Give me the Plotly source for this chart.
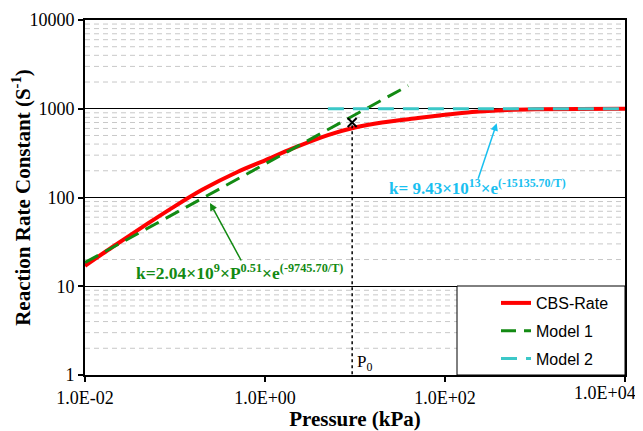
import plotly.graph_objects as go
import math

# ---- data ----
cbs_p = [0.01, 0.02, 0.05, 0.1, 0.2, 0.5, 1, 2, 5, 10, 20, 50, 100, 200, 500, 1000, 10000]
cbs_k = [17, 27.5, 51, 80, 122, 195, 262, 355, 505, 615, 700, 785, 855, 920, 970, 988, 1000]

m1_p = [0.01, 0.1, 1, 10, 39]
m1_k = [18.5, 66, 238, 855, 1820]

m2_p = [5, 10000]
m2_k = [1000, 1000]

p0 = 9.3
p0_k = 700

y_ticks = [1, 10, 100, 1000, 10000]
y_ticklabels = ["1", "10", "100", "1000", "10000"]
x_ticks = [0.01, 1, 100, 10000]
x_ticklabels = ["1.0E-02", "1.0E+00", "1.0E+02", ""]
x_last_label = "1.0E+04"

minor_vals = [m * 10 ** e for e in range(0, 4) for m in range(2, 10)]

SERIF = "Liberation Serif"
SANS = "Liberation Sans"
GREEN = "#138a13"
CYAN_LINE = "#3cc8c8"
CYAN_TXT = "#19c0f0"

fig = go.Figure()

fig.add_trace(go.Scatter(x=cbs_p, y=cbs_k, mode="lines", name="CBS-Rate",
                         line=dict(color="#ff0000", width=4, shape="spline", smoothing=0.8),
                         legendgroup="a"))
fig.add_trace(go.Scatter(x=m1_p, y=m1_k, mode="lines", name="Model 1",
                         line=dict(color=GREEN, width=3, dash="15px,8px"),
                         legendgroup="b"))
fig.add_trace(go.Scatter(x=m2_p, y=m2_k, mode="lines", name="Model 2",
                         line=dict(color=CYAN_LINE, width=3, dash="16px,9px"),
                         legendgroup="c"))
fig.add_trace(go.Scatter(x=[p0, p0], y=[p0_k * 0.93, 1], mode="lines", showlegend=False,
                         line=dict(color="black", width=1.5, dash="dot")))
fig.add_trace(go.Scatter(x=[p0], y=[p0_k], mode="markers", showlegend=False,
                         marker=dict(symbol="x-thin", size=9,
                                     line=dict(color="black", width=2))))

shapes = []
for v in minor_vals:
    shapes.append(dict(type="line", xref="paper", x0=0, x1=1, yref="y", y0=v, y1=v,
                       line=dict(color="#c8c8c8", width=1, dash="5px,4px"),
                       layer="below"))
# legend box
shapes.append(dict(type="rect", xref="paper", yref="paper",
                   x0=(457 - 85) / 540, x1=1, y0=0, y1=(375 - 286) / 355,
                   fillcolor="white", line=dict(color="black", width=1), layer="above"))

annotations = [
    dict(x=-0.278, y=math.log10(14.5), xref="x", yref="y",
         text="<b>k=2.04×10<sup>9</sup>×P<sup>0.51</sup>×e<sup>(-9745.70/T)</sup></b>",
         showarrow=False, font=dict(family=SERIF, size=17.5, color=GREEN),
         xanchor="center", yanchor="middle"),
    dict(x=-0.611, y=1.938, xref="x", yref="y", text="", showarrow=True,
         ax=32, ay=59, arrowhead=2, arrowsize=1, arrowwidth=1.5, arrowcolor=GREEN),
    dict(x=math.log10(232), y=math.log10(133), xref="x", yref="y",
         text="<b>k= 9.43×10<sup>13</sup>×e<sup>(-15135.70/T)</sup></b>",
         showarrow=False, font=dict(family=SERIF, size=17, color=CYAN_TXT),
         xanchor="center", yanchor="middle"),
    dict(x=2.574, y=2.836, xref="x", yref="y", text="", showarrow=True,
         ax=-19, ay=57, arrowhead=2, arrowsize=1, arrowwidth=1.5, arrowcolor=CYAN_TXT),
    dict(x=math.log10(12.6), y=math.log10(1.38), xref="x", yref="y",
         text="P<sub>0</sub>", showarrow=False,
         font=dict(family=SERIF, size=17, color="black"),
         xanchor="center", yanchor="middle"),
    dict(x=1, y=0, xref="paper", yref="paper", text=x_last_label, showarrow=False,
         xanchor="right", yanchor="top", xshift=13, yshift=-6,
         font=dict(family=SERIF, size=18, color="black")),
]

fig.update_layout(
    width=635, height=423,
    margin=dict(l=77, r=18, t=12, b=56),
    paper_bgcolor="white", plot_bgcolor="white",
    shapes=shapes, annotations=annotations,
    showlegend=True,
    legend=dict(x=(496 - 85) / 540, y=(375 - 286) / 355, xanchor="left", yanchor="top",
                bgcolor="rgba(0,0,0,0)", borderwidth=0, tracegroupgap=4,
                font=dict(family=SANS, size=16, color="black")),
    xaxis=dict(type="log", range=[-2, 4], showgrid=False, zeroline=False, automargin=False,
               tickvals=x_ticks, ticktext=x_ticklabels, ticks="outside", ticklen=5,
               tickwidth=1.5, tickcolor="black", ticklabeloverflow="allow",
               showline=True, linecolor="black", linewidth=2, mirror=True,
               tickfont=dict(family=SERIF, size=18, color="black"),
               title=dict(text="<b>Pressure (kPa)</b>", standoff=6,
                          font=dict(family=SERIF, size=21, color="black"))),
    yaxis=dict(type="log", range=[0, 4], showgrid=True, gridcolor="black", gridwidth=1,
               zeroline=False, automargin=False,
               tickvals=y_ticks, ticktext=y_ticklabels, ticks="outside", ticklen=5,
               tickwidth=1.5, tickcolor="black", ticklabeloverflow="allow",
               showline=True, linecolor="black", linewidth=2, mirror=True,
               tickfont=dict(family=SERIF, size=18, color="black"),
               title=dict(text="<b>Reaction Rate Constant (S<sup>-1</sup>)</b>", standoff=2,
                          font=dict(family=SERIF, size=21, color="black"))),
)

fig.write_html("out.html")
